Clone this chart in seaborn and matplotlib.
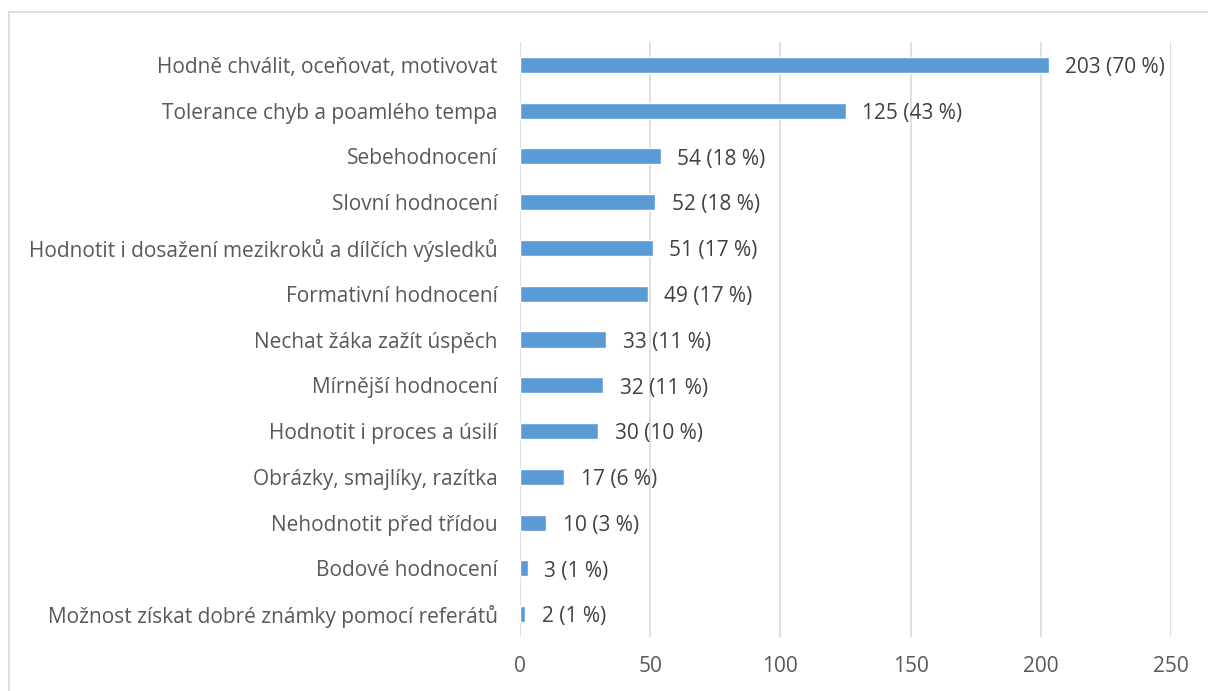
import matplotlib
matplotlib.use("Agg")
import matplotlib.pyplot as plt
import seaborn as sns
import pandas as pd
from matplotlib.patches import Rectangle

categories = [
    "Hodně chválit, oceňovat, motivovat",
    "Tolerance chyb a poamlého tempa",
    "Sebehodnocení",
    "Slovní hodnocení",
    "Hodnotit i dosažení mezikroků a dílčích výsledků",
    "Formativní hodnocení",
    "Nechat žáka zažít úspěch",
    "Mírnější hodnocení",
    "Hodnotit i proces a úsilí",
    "Obrázky, smajlíky, razítka",
    "Nehodnotit před třídou",
    "Bodové hodnocení",
    "Možnost získat dobré známky pomocí referátů",
]
counts = [203, 125, 54, 52, 51, 49, 33, 32, 30, 17, 10, 3, 2]
percents = [70, 43, 18, 18, 17, 17, 11, 11, 10, 6, 3, 1, 1]
xticks = [0, 50, 100, 150, 200, 250]

sns.set_theme(style="white")
plt.rcParams['font.family'] = ['Open Sans', 'DejaVu Sans']

df = pd.DataFrame({"cat": categories, "val": counts})

fig = plt.figure(figsize=(12.08, 6.91), dpi=100)
ax = fig.add_axes([520/1208, 1-637/691, (1171-520)/1208, (637-42)/691])
sns.barplot(data=df, y="cat", x="val", orient="h", color="#5B9BD5",
            saturation=1, width=0.35, ax=ax, zorder=3)

ax.set_xlim(0, 250)
ax.set_ylim(len(categories)-0.5, -0.5)
ax.set_xticks(xticks)
ax.set_xticklabels([str(t) for t in xticks])
ax.set_xlabel("")
ax.set_ylabel("")
ax.grid(axis="x", color="#D9D9D9", linewidth=1.2, zorder=0)
for s in ax.spines.values():
    s.set_visible(False)
ax.tick_params(axis="both", length=0, labelsize=15, colors="#595959")
ax.tick_params(axis="y", pad=16)
ax.tick_params(axis="x", pad=14)

for i, (c, p) in enumerate(zip(counts, percents)):
    ax.annotate(f"{c} ({p} %)", xy=(c, i), xytext=(12, -2), textcoords="offset points",
                va="center", ha="left", fontsize=15, color="#404040")

fig.add_artist(Rectangle((9/1208, -0.05), 1.2, 1-12/691+0.05, transform=fig.transFigure,
                         fill=False, edgecolor="#D9D9D9", linewidth=1.2))

fig.savefig("out.png", dpi=100)
